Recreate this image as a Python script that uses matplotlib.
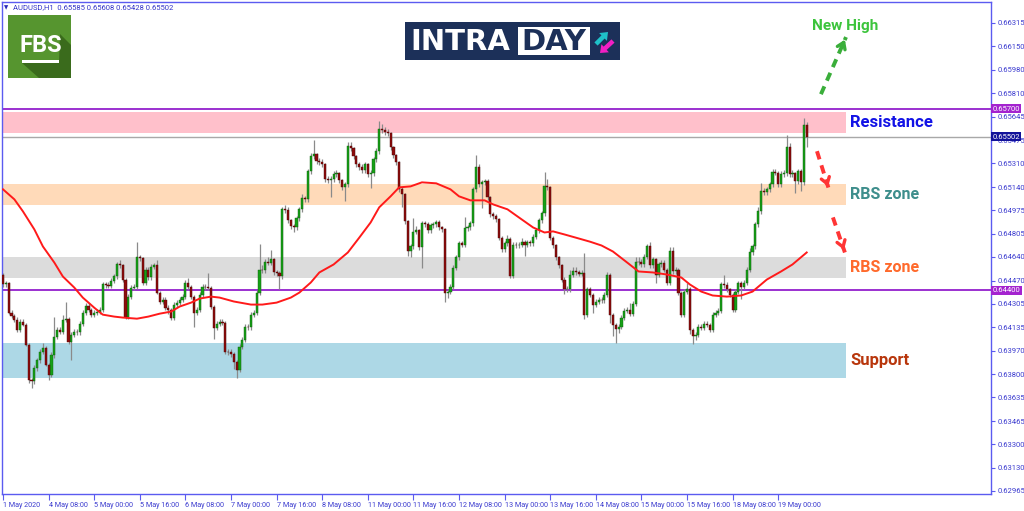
import matplotlib
matplotlib.use('Agg')
import matplotlib.pyplot as plt
import matplotlib.patches as mpatches
import matplotlib.transforms as mtransforms
import numpy as np

# ---------------- data ----------------
symbol_header = "AUDUSD,H1  0.65585 0.65608 0.65428 0.65502"
first_open = 0.64514
closes = [
    0.64443, 0.64450, 0.64242, 0.64220, 0.64191, 0.64120, 0.64177, 0.64156, 0.64012, 0.63761,
    0.63754, 0.63847, 0.63904, 0.63962, 0.63991, 0.63868, 0.63797, 0.63940, 0.64069, 0.64120,
    0.64105, 0.64191, 0.64198, 0.64034, 0.64084, 0.64105, 0.64100, 0.64163, 0.64242, 0.64292,
    0.64263, 0.64227, 0.64242, 0.64249, 0.64263, 0.64443, 0.64440, 0.64435, 0.64471, 0.64500,
    0.64586, 0.64579, 0.64478, 0.64213, 0.64356, 0.64421, 0.64428, 0.64636, 0.64630, 0.64457,
    0.64550, 0.64493, 0.64571, 0.64579, 0.64385, 0.64321, 0.64335, 0.64277, 0.64263, 0.64206,
    0.64299, 0.64313, 0.64335, 0.64356, 0.64457, 0.64428, 0.64356, 0.64242, 0.64263, 0.64371,
    0.64428, 0.64425, 0.64421, 0.64285, 0.64134, 0.64163, 0.64177, 0.64170, 0.63962, 0.63958,
    0.63947, 0.63890, 0.63833, 0.63998, 0.64048, 0.64141, 0.64138, 0.64227, 0.64242, 0.64385,
    0.64550, 0.64543, 0.64607, 0.64600, 0.64622, 0.64529, 0.64526, 0.64500, 0.64981, 0.64978,
    0.64902, 0.64858, 0.64851, 0.64916, 0.64981, 0.65059, 0.65052, 0.65253, 0.65361, 0.65375,
    0.65325, 0.65318, 0.65303, 0.65196, 0.65188, 0.65196, 0.65232, 0.65239, 0.65188, 0.65138,
    0.65160, 0.65432, 0.65418, 0.65361, 0.65303, 0.65282, 0.65260, 0.65303, 0.65232, 0.65239,
    0.65339, 0.65397, 0.65554, 0.65550, 0.65533, 0.65526, 0.65425, 0.65368, 0.65318, 0.65124,
    0.65088, 0.64894, 0.64679, 0.64715, 0.64821, 0.64830, 0.64708, 0.64880, 0.64873, 0.64830,
    0.64866, 0.64873, 0.64887, 0.64851, 0.64837, 0.64385, 0.64392, 0.64428, 0.64564, 0.64636,
    0.64737, 0.64729, 0.64844, 0.64851, 0.64880, 0.65124, 0.65282, 0.65160, 0.65174, 0.65181,
    0.65067, 0.64945, 0.64930, 0.64909, 0.64778, 0.64694, 0.64737, 0.64765, 0.64507, 0.64729,
    0.64725, 0.64729, 0.64744, 0.64729, 0.64744, 0.64737, 0.64785, 0.64830, 0.64902, 0.64952,
    0.65145, 0.65140, 0.64778, 0.64722, 0.64636, 0.64579, 0.64478, 0.64407, 0.64410, 0.64514,
    0.64536, 0.64529, 0.64521, 0.64525, 0.64227, 0.64407, 0.64371, 0.64299, 0.64321, 0.64335,
    0.64330, 0.64371, 0.64514, 0.64227, 0.64156, 0.64127, 0.64141, 0.64206, 0.64256, 0.64263,
    0.64234, 0.64306, 0.64607, 0.64604, 0.64586, 0.64643, 0.64715, 0.64579, 0.64622, 0.64514,
    0.64586, 0.64600, 0.64550, 0.64457, 0.64679, 0.64536, 0.64550, 0.64385, 0.64227, 0.64392,
    0.64414, 0.64120, 0.64077, 0.64084, 0.64141, 0.64134, 0.64163, 0.64156, 0.64120, 0.64227,
    0.64242, 0.64256, 0.64443, 0.64440, 0.64407, 0.64371, 0.64263, 0.64392, 0.64450, 0.64428,
    0.64457, 0.64550, 0.64672, 0.64715, 0.64873, 0.64966, 0.65110, 0.65102, 0.65124, 0.65160,
    0.65246, 0.65243, 0.65160, 0.65232, 0.65239, 0.65425, 0.65232, 0.65239, 0.65181, 0.65253,
    0.65174, 0.65585, 0.65502,
]
upper_wick_pips = [
    1, 2, 1, 2, 1, 2, 2, 2, 1, 1,
    1, 2, 1, 2, 3, 1, 1, 2, 14, 2,
    2, 3, 12, 1, 2, 2, 2, 2, 2, 2,
    2, 1, 2, 2, 2, 2, 2, 2, 2, 2,
    2, 3, 1, 1, 2, 2, 2, 11, 2, 1,
    2, 2, 2, 2, 4, 1, 2, 2, 2, 1,
    2, 2, 2, 2, 2, 3, 1, 1, 2, 2,
    2, 2, 10, 1, 1, 2, 2, 2, 1, 2,
    2, 1, 1, 2, 2, 2, 2, 2, 2, 2,
    18, 3, 2, 3, 7, 1, 2, 1, 2, 3,
    2, 1, 2, 2, 2, 3, 2, 2, 2, 10,
    1, 2, 2, 1, 2, 2, 2, 2, 1, 1,
    2, 3, 3, 1, 1, 2, 2, 2, 1, 2,
    2, 2, 6, 4, 2, 2, 1, 1, 1, 1,
    2, 1, 1, 2, 10, 3, 1, 2, 2, 2,
    2, 2, 2, 2, 1, 1, 2, 2, 2, 2,
    2, 2, 8, 2, 2, 2, 9, 2, 2, 2,
    2, 1, 2, 2, 1, 1, 2, 3, 2, 2,
    2, 2, 3, 2, 2, 2, 2, 2, 2, 2,
    10, 5, 1, 1, 1, 1, 1, 2, 2, 3,
    3, 3, 2, 2, 14, 2, 2, 1, 2, 2,
    2, 2, 2, 1, 1, 1, 2, 2, 2, 2,
    5, 2, 3, 3, 2, 2, 2, 3, 2, 1,
    2, 2, 2, 1, 3, 3, 2, 1, 1, 2,
    4, 1, 1, 2, 2, 2, 2, 2, 1, 2,
    2, 2, 2, 7, 2, 1, 1, 2, 2, 2,
    2, 2, 3, 2, 2, 3, 6, 2, 2, 2,
    2, 2, 1, 2, 2, 9, 3, 2, 1, 2,
    2, 5, 2.3,
]
lower_wick_pips = [
    2, 2, 1, 2, 2, 2, 2, 1, 1, 2,
    5, 2, 2, 2, 2, 1, 4, 2, 2, 2,
    2, 2, 2, 2, 13, 2, 2, 2, 2, 2,
    2, 2, 2, 2, 2, 2, 2, 2, 2, 2,
    2, 2, 2, 2, 2, 2, 2, 2, 2, 2,
    2, 2, 2, 2, 1, 2, 2, 2, 3, 2,
    2, 2, 2, 2, 2, 2, 2, 10, 2, 2,
    2, 2, 2, 2, 8, 2, 2, 2, 2, 2,
    2, 5, 6, 2, 2, 2, 2, 2, 2, 2,
    2, 2, 2, 2, 2, 2, 2, 9, 2, 2,
    2, 2, 3, 2, 2, 2, 2, 2, 2, 2,
    2, 2, 2, 2, 2, 12, 2, 2, 2, 2,
    10, 2, 2, 2, 2, 2, 2, 2, 2, 10,
    2, 2, 2, 2, 2, 2, 2, 2, 2, 2,
    9, 2, 3, 4, 2, 2, 2, 15, 2, 2,
    2, 2, 2, 2, 2, 7, 4, 2, 2, 2,
    2, 2, 2, 2, 2, 2, 2, 2, 17, 2,
    2, 2, 2, 2, 2, 2, 2, 2, 2, 2,
    2, 2, 2, 8, 2, 2, 2, 2, 2, 2,
    2, 2, 2, 2, 2, 2, 2, 3, 2, 2,
    2, 2, 2, 2, 3, 2, 2, 6, 2, 2,
    2, 2, 2, 6, 8, 10, 3, 2, 2, 2,
    2, 2, 2, 2, 2, 2, 2, 2, 2, 6,
    2, 2, 2, 2, 2, 2, 2, 2, 2, 2,
    2, 3, 6, 3, 2, 2, 2, 2, 2, 2,
    2, 2, 2, 2, 2, 2, 2, 2, 2, 9,
    2, 2, 2, 2, 2, 2, 2, 2, 2, 2,
    2, 2, 2, 2, 2, 2, 2, 2, 8, 2,
    6, 2, 7.4,
]
# moving average (red line), sampled at bar indices
ma_bars = [0, 4, 7, 11, 14, 18, 21, 25, 28, 32, 35, 39, 42, 47, 51, 55, 59, 62, 66, 69,
           73, 76, 81, 87, 91, 96, 101, 104, 108, 111, 116, 121, 125, 129, 132, 136, 139,
           143, 147, 152, 157, 160, 164, 169, 172, 177, 181, 186, 190, 193, 197, 201, 206,
           210, 214, 219, 223, 228, 233, 238, 241, 245, 249, 254, 259, 263, 268, 273, 277, 282]
ma_values = [0.65124, 0.65052, 0.64966, 0.64837, 0.64715, 0.64600, 0.64500, 0.64421, 0.64349,
             0.64277, 0.64227, 0.64213, 0.64206, 0.64198, 0.64213, 0.64234, 0.64249, 0.64285,
             0.64313, 0.64342, 0.64356, 0.64349, 0.64321, 0.64299, 0.64299, 0.64313, 0.64349,
             0.64385, 0.64457, 0.64529, 0.64586, 0.64672, 0.64778, 0.64887, 0.64995, 0.65074,
             0.65138, 0.65145, 0.65174, 0.65167, 0.65124, 0.65074, 0.65045, 0.65045, 0.65016,
             0.64981, 0.64923, 0.64851, 0.64815, 0.64823, 0.64801, 0.64778, 0.64749, 0.64722,
             0.64679, 0.64600, 0.64536, 0.64529, 0.64514, 0.64493, 0.64443, 0.64392, 0.64364,
             0.64356, 0.64364, 0.64392, 0.64478, 0.64536, 0.64586, 0.64672]

x_tick_labels = ["1 May 2020", "4 May 08:00", "5 May 00:00", "5 May 16:00", "6 May 08:00",
                 "7 May 00:00", "7 May 16:00", "8 May 08:00", "11 May 00:00", "11 May 16:00",
                 "12 May 08:00", "13 May 00:00", "13 May 16:00", "14 May 08:00", "15 May 00:00",
                 "15 May 16:00", "18 May 08:00", "19 May 00:00"]
bars_per_label = 16
y_ticks = [0.66315, 0.66150, 0.65980, 0.65810, 0.65645, 0.65475, 0.65310, 0.65140, 0.64975,
           0.64805, 0.64640, 0.64470, 0.64305, 0.64135, 0.63970, 0.63800, 0.63635, 0.63465,
           0.63300, 0.63130, 0.62965]

zone_names = ["Resistance", "RBS zone", "RBS zone", "Support"]
zone_low = [0.65526, 0.65009, 0.64486, 0.63776]
zone_high = [0.65677, 0.65160, 0.64643, 0.64027]
zone_fill = ["#ffc0cb", "#ffdab9", "#dcdcdc", "#add8e6"]
zone_text_color = ["#1212e6", "#3e8e8c", "#ff6a2c", "#b8360c"]
zone_text_size = [12, 11.5, 11.5, 12]

level_lines = [0.65700, 0.64400]
current_price = 0.65502

# ---------------- figure ----------------
W, H = 1024, 511
fig = plt.figure(figsize=(W / 100, H / 100), dpi=100)
fig.patch.set_facecolor("white")

spine_c = "#5b5bf0"
tick_c = "#3b3bcf"
small_font = ["Roboto", "DejaVu Sans"]

ax = fig.add_axes([1.5 / W, (H - 494) / H, (991 - 1.5) / W, (494 - 2) / H])
ax.set_facecolor("white")

n = len(closes)
xs = np.arange(n)
c = np.array(closes)
o = np.concatenate([[first_open], c[:-1]])
hi = np.maximum(o, c) + np.array(upper_wick_pips) * 1e-4
lo = np.minimum(o, c) - np.array(lower_wick_pips) * 1e-4

px_per_bar = 2.85
x_left = (1.5 - 3) / px_per_bar
x_right = (991 - 3) / px_per_bar
ax.set_xlim(x_left, x_right)
ax.set_ylim(0.62943, 0.66465)

zone_right = 295.8
for zl, zh, fc in zip(zone_low, zone_high, zone_fill):
    ax.fill_between([x_left, zone_right], zl, zh, color=fc, lw=0, zorder=1)

for lv in level_lines:
    ax.axhline(lv, color="#9b30d0", lw=1.4, zorder=2)
ax.axhline(current_price, color="#a8a8a8", lw=1.0, zorder=2)

# candles
up = c >= o
ax.vlines(xs, lo, hi, color="#8a8a8a", lw=0.9, zorder=3)
body_h = np.maximum(np.abs(c - o), 0.00003)
ax.bar(xs[up], body_h[up], bottom=np.minimum(o, c)[up], width=0.75,
       color="#16a016", edgecolor="#0d5d0d", lw=0.3, zorder=4)
ax.bar(xs[~up], body_h[~up], bottom=np.minimum(o, c)[~up], width=0.75,
       color="#8e0c0c", edgecolor="#4a0505", lw=0.3, zorder=4)

ax.plot(ma_bars, ma_values, color="#ff1a1a", lw=1.4, zorder=5)

# zone labels
for name, zl, zh, col, fs in zip(zone_names, zone_low, zone_high, zone_text_color, zone_text_size):
    ax.text(297.3, (zl + zh) / 2, name, color=col, fontsize=fs, fontweight="bold",
            family=["Roboto", "DejaVu Sans"], ha="left", va="center", zorder=6)

ax.text(284.0, 0.66294, "New High", color="#3cc43c", fontsize=11, fontweight="bold",
        family=["Roboto", "DejaVu Sans"], ha="left", va="center", zorder=6)

def dashed_arrow(x0, y0, x1, y1, col):
    ax.plot([x0, x1], [y0, y1], color=col, lw=2.8, dashes=(2.2, 1.6),
            solid_capstyle="butt", zorder=6)
    ax.annotate("", xy=(x1, y1), xytext=(x0 + (x1 - x0) * 0.8, y0 + (y1 - y0) * 0.8),
                arrowprops=dict(arrowstyle="->,head_length=0.45,head_width=0.3",
                                color=col, lw=2.4), zorder=6)

dashed_arrow(287.0, 0.65805, 295.8, 0.66214, "#3aae3a")
dashed_arrow(285.6, 0.65397, 289.8, 0.65124, "#ff3535")
dashed_arrow(291.2, 0.64923, 295.4, 0.64672, "#ff3535")

# axes styling
for s in ax.spines.values():
    s.set_color(spine_c)
    s.set_linewidth(1.0)
ax.yaxis.tick_right()
ax.set_yticks(y_ticks)
ax.set_yticklabels([f"{v:.5f}" for v in y_ticks], family=small_font)
ax.tick_params(axis="y", direction="out", length=3, width=0.8, color=spine_c,
               labelcolor=tick_c, labelsize=5.5, pad=1.5)
ax.set_xticks(np.arange(len(x_tick_labels)) * bars_per_label)
ax.set_xticklabels(x_tick_labels, ha="left", family=small_font)
ax.tick_params(axis="x", direction="out", length=4, width=0.8, color=spine_c,
               labelcolor=tick_c, labelsize=5.2, pad=1.5)

# price badges
trans = mtransforms.blended_transform_factory(ax.transAxes, ax.transData)
badges = [(level_lines[0], "#a423cf"), (current_price, "#12129a"), (level_lines[1], "#a423cf")]
for val, bc in badges:
    ax.text(1.0015, val, f"{val:.5f}", transform=trans, ha="left", va="center",
            fontsize=5.5, family=small_font, color="white", clip_on=False, zorder=10,
            bbox=dict(boxstyle="square,pad=0.18", fc=bc, ec="none"))

# ---------------- overlay (logos, header) ----------------
ov = fig.add_axes([0, 0, 1, 1], zorder=20)
ov.set_xlim(0, W)
ov.set_ylim(H, 0)
ov.axis("off")
ov.patch.set_alpha(0)

ov.text(4, 7.5, "\u25BC", fontsize=4, color="#2a2ab8", va="center", ha="left")
ov.text(13, 7.5, symbol_header, fontsize=5.5, color="#3434c8", va="center", ha="left",
        family=small_font)

# FBS logo
ov.add_patch(mpatches.Rectangle((8, 15), 63, 63, fc="#56952f", ec="none"))
ov.add_patch(mpatches.Polygon([(60, 34), (71, 45), (71, 78), (39, 78), (22, 63), (59, 63)],
                              closed=True, fc="#3a6b1c", ec="none"))
ov.text(41, 46, "FBS", color="white", fontsize=17, fontweight="bold",
        family=["Roboto", "DejaVu Sans"], ha="center", va="center")
ov.add_patch(mpatches.Rectangle((22, 60), 37, 3.2, fc="white", ec="none"))

# INTRADAY logo
ov.add_patch(mpatches.Rectangle((405, 22), 215, 38, fc="#1c3059", ec="none"))
ov.add_patch(mpatches.Rectangle((518, 27.5), 72, 28, fc="white", ec="none"))
ov.text(410, 42, "INTRA", color="white", fontsize=21, fontweight="bold",
        family="DejaVu Sans", ha="left", va="center")
ov.text(554, 42, "DAY", color="#1c3059", fontsize=21, fontweight="bold",
        family="DejaVu Sans", ha="center", va="center")
ov.add_patch(mpatches.FancyArrow(596, 44, 12, -12, width=4.5, head_width=11, head_length=7,
                                 length_includes_head=True, fc="#1fc2c9", ec="none"))
ov.add_patch(mpatches.FancyArrow(613, 41, -13, 12, width=4.5, head_width=11, head_length=7,
                                 length_includes_head=True, fc="#f21fc4", ec="none"))

fig.savefig("out.png", dpi=100, facecolor="white")
